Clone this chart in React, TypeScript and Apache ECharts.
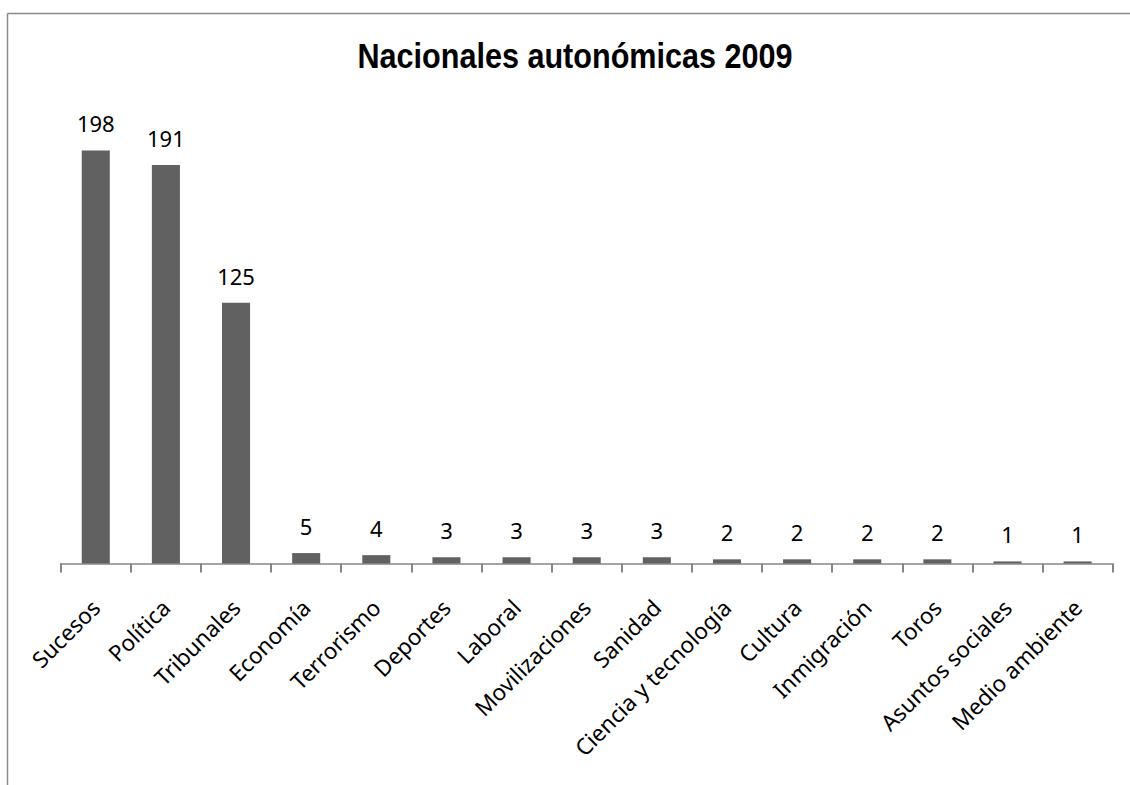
import React, { useEffect, useRef } from "react";
import * as echarts from "echarts";

const categories = [
  "Sucesos", "Política", "Tribunales", "Economía", "Terrorismo", "Deportes", "Laboral",
  "Movilizaciones", "Sanidad", "Ciencia y tecnología", "Cultura", "Inmigración", "Toros",
  "Asuntos sociales", "Medio ambiente",
];
const values = [198, 191, 125, 5, 4, 3, 3, 3, 3, 2, 2, 2, 2, 1, 1];
const titleText = "Nacionales autonómicas 2009";

export default function App() {
  const ref = useRef<HTMLDivElement>(null);
  useEffect(() => {
    if (!ref.current) return;
    const chart = echarts.init(ref.current, undefined, { renderer: "svg" });
    chart.setOption({
      animation: false,
      backgroundColor: "#ffffff",
      graphic: [
        { type: "line", shape: { x1: 7.5, y1: 13.5, x2: 1130, y2: 13.5 }, style: { stroke: "#8a8a8a", lineWidth: 1.5 } },
        { type: "line", shape: { x1: 7.5, y1: 13.5, x2: 7.5, y2: 785 }, style: { stroke: "#8a8a8a", lineWidth: 1.5 } },
        {
          type: "text",
          x: 575,
          y: 56,
          scaleX: 0.85,
          style: {
            text: titleText,
            fontFamily: "'Liberation Sans', Arial, sans-serif",
            fontWeight: "bold",
            fontSize: 36,
            fill: "#000",
            align: "center",
            verticalAlign: "middle",
          },
        },
      ],
      grid: { left: 60.7, right: 17.3, top: 42, bottom: 221.5, containLabel: false },
      xAxis: {
        type: "category",
        data: categories,
        axisLine: { show: true, lineStyle: { color: "#868686", width: 1.5 } },
        axisTick: { show: true, interval: 0, alignWithLabel: false, length: 9, lineStyle: { color: "#868686", width: 2 } },
        axisLabel: {
          rotate: 45,
          interval: 0,
          margin: 40,
          fontFamily: "'Noto Sans', sans-serif",
          fontSize: 22.5,
          color: "#000",
        },
      },
      yAxis: {
        type: "value",
        min: 0,
        max: 250,
        show: false,
      },
      series: [
        {
          type: "bar",
          data: values,
          barWidth: "40%",
          itemStyle: { color: "#616161" },
          label: {
            show: true,
            position: "top",
            distance: 16,
            fontFamily: "'Noto Sans', sans-serif",
            fontSize: 22,
            color: "#000",
          },
        },
      ],
    });
    return () => chart.dispose();
  }, []);
  return (
    <div
      ref={ref}
      style={{ position: "absolute", left: 0, top: 0, width: 1130, height: 785 }}
    />
  );
}
